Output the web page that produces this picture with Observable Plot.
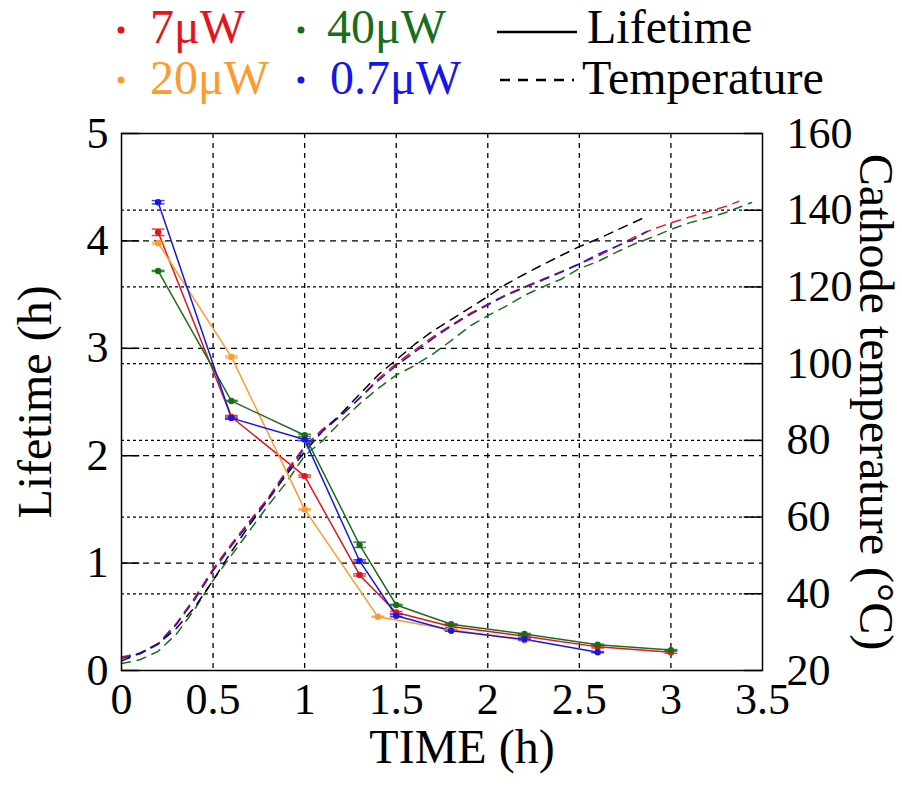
<!DOCTYPE html>
<html>
<head>
<meta charset="utf-8">
<script src="https://cdn.jsdelivr.net/npm/d3@7"></script>
<script src="https://cdn.jsdelivr.net/npm/@observablehq/plot@0.6"></script>
<style>
  html, body { margin: 0; padding: 0; background: white; }
  #chart { width: 902px; }
</style>
</head>
<body>
<div id="chart"></div>
<script>
// ---- Data ----
const powers = ["7μW", "20μW", "40μW", "0.7μW"];
const colors = ["#e3141b", "#ff9a2e", "#1a6e1a", "#1616e6"];

// Lifetime (h) vs time (h)
const lifeX_7 = [0.2, 0.6, 1.0, 1.3, 1.5, 1.8, 2.2, 2.6, 3.0];
const life_7  = [4.08, 2.36, 1.81, 0.89, 0.54, 0.41, 0.32, 0.22, 0.17];
const err_7   = [0.03, 0.015, 0.01, 0.01, 0.01, 0.01, 0.01, 0.01, 0.01];

const lifeX_20 = [0.2, 0.6, 1.0, 1.4, 1.8, 2.2];
const life_20  = [3.98, 2.92, 1.50, 0.50, 0.38, 0.28];
const err_20   = [0.01, 0.01, 0.005, 0.005, 0.005, 0.005];

const lifeX_40 = [0.2, 0.6, 1.0, 1.3, 1.5, 1.8, 2.2, 2.6, 3.0];
const life_40  = [3.72, 2.51, 2.19, 1.17, 0.61, 0.43, 0.34, 0.24, 0.19];
const err_40   = [0.005, 0.005, 0.01, 0.025, 0.005, 0.005, 0.005, 0.005, 0.005];

const lifeX_07 = [0.2, 0.6, 1.0, 1.3, 1.5, 1.8, 2.2, 2.6];
const life_07  = [4.36, 2.35, 2.15, 1.02, 0.51, 0.37, 0.29, 0.17];
const err_07   = [0.015, 0.01, 0.01, 0.01, 0.01, 0.005, 0.005, 0.005];

// Cathode temperature (°C) vs time (h)
const tempX_7 = [0.0,0.1,0.2,0.3,0.4,0.5,0.6,0.7,0.8,0.9,1.0,1.1,1.2,1.3,1.4,1.5,1.6,1.7,1.8,1.9,2.0,2.1,2.2,2.3,2.4,2.5,2.6,2.7,2.8,2.9,3.0,3.1,3.2,3.3,3.37];
const temp_7  = [23.5,24.5,27,32.3,39,46.5,53,59,65,72,78.5,83,86.5,91,96,100,103.5,107,110,113,115.5,118,120,122,124,126,128,130.5,133,135,136.7,138.2,139.6,141,142.3];

const tempX_07 = [0.0,0.1,0.2,0.3,0.4,0.5,0.6,0.7,0.8,0.9,1.0,1.1,1.2,1.3,1.4,1.5,1.6,1.7,1.8,1.9,2.0,2.1,2.2,2.3,2.4,2.5,2.6,2.7,2.8,2.87];
const temp_07  = [23.2,24.3,26.8,32,38.5,46,52.5,58.5,64.5,71.5,78,82.5,86.5,91,95.5,99.5,103,106.5,109.8,112.7,115.3,117.8,119.8,121.8,123.8,126,128.5,130.5,132.5,134.5];

const tempX_40 = [0.0,0.1,0.2,0.3,0.4,0.5,0.6,0.7,0.8,0.9,1.0,1.1,1.2,1.3,1.4,1.5,1.6,1.7,1.8,1.9,2.0,2.1,2.2,2.3,2.4,2.5,2.6,2.7,2.8,2.9,3.0,3.1,3.2,3.3,3.44];
const temp_40  = [21.8,22.8,25,29.5,36,43.5,50,56.5,63,69,76,80,85,89.5,93.5,97,99.5,102.5,106,109.7,112.5,115,117.8,120,122,124.8,126.6,129,131.2,133,135,136.7,138,139.4,142];

const tempX_k = [0.0,0.1,0.2,0.3,0.4,0.5,0.6,0.7,0.8,0.9,1.0,1.1,1.2,1.3,1.4,1.5,1.6,1.7,1.8,1.9,2.0,2.1,2.2,2.3,2.4,2.5,2.6,2.7,2.85];
const temp_k  = [22.5,24.5,27,31,36.5,43.5,51,58,64.5,71,77,82.5,87,92,97,101,105,108.5,111.5,114.5,117.5,120.7,123.3,125.8,128.2,130.5,132.5,134.7,138];

// Axis ticks
const xTicks = [0, 0.5, 1, 1.5, 2, 2.5, 3, 3.5];
const xGrid = [0.5, 1, 1.5, 2, 2.5, 3];
const yTicks = [0, 1, 2, 3, 4, 5];
const yGrid = [1, 2, 3, 4];
const tTicks = [20, 40, 60, 80, 100, 120, 140, 160];
const tGrid = [40, 60, 80, 100, 120, 140];

// ---- Build tables ----
const toY = t => (t - 20) / 28;   // map temperature domain [20,160] onto lifetime domain [0,5]
const fromY = y => String(Math.round(y * 28 + 20));

const lifeSets = [
  [powers[0], lifeX_7, life_7, err_7],
  [powers[1], lifeX_20, life_20, err_20],
  [powers[2], lifeX_40, life_40, err_40],
  [powers[3], lifeX_07, life_07, err_07]
];
const lifeRows = lifeSets.flatMap(([p, xs, ys, es]) => xs.map((x, i) => ({power: p, x, y: ys[i], e: es[i]})));

const tempSets = [
  ["7μW", tempX_7, temp_7, colors[0]],
  ["40μW", tempX_40, temp_40, colors[2]],
  ["ref", tempX_k, temp_k, "black"],
  ["0.7μW", tempX_07, temp_07, colors[3]]
];

const FONT = "'Liberation Serif', 'Times New Roman', serif";
const capW = 0.035;

const tempMarks = tempSets.map(([name, xs, ts, c]) =>
  Plot.line(xs.map((x, i) => ({x, t: ts[i]})), {
    x: "x", y: d => toY(d.t), stroke: c, strokeWidth: 1.5, strokeDasharray: "9,7"
  })
);

const plot = Plot.plot({
  width: 902,
  height: 679,
  marginTop: 23,
  marginBottom: 119,
  marginLeft: 121,
  marginRight: 140,
  style: {fontFamily: FONT, fontSize: "44px", color: "black", background: "white", overflow: "visible"},
  x: {domain: [0, 3.5]},
  y: {domain: [0, 5]},
  color: {domain: powers, range: colors},
  marks: [
    // grid
    Plot.ruleX(xGrid, {stroke: "black", strokeWidth: 1.3, strokeDasharray: "5,5"}),
    Plot.ruleY(yGrid, {stroke: "black", strokeWidth: 1.3, strokeDasharray: "6,5"}),
    Plot.ruleY(tGrid.map(toY), {stroke: "black", strokeWidth: 1.2, strokeDasharray: "3,3"}),
    // inner ticks
    Plot.ruleY(yTicks, {x1: 0, x2: 0.1, stroke: "black", strokeWidth: 1.5}),
    Plot.ruleY(tTicks.map(toY), {x1: 3.4, x2: 3.5, stroke: "black", strokeWidth: 1.5}),
    // temperature (dashed)
    ...tempMarks,
    // lifetime lines
    Plot.line(lifeRows, {x: "x", y: "y", z: "power", stroke: "power", strokeWidth: 1.5}),
    // error bars
    Plot.link(lifeRows, {x1: "x", x2: "x", y1: d => d.y - d.e, y2: d => d.y + d.e, stroke: "power", strokeWidth: 1.5}),
    Plot.link(lifeRows, {x1: d => d.x - capW, x2: d => d.x + capW, y1: d => d.y + d.e, y2: d => d.y + d.e, stroke: "power", strokeWidth: 1.5, strokeOpacity: 0.8}),
    Plot.link(lifeRows, {x1: d => d.x - capW, x2: d => d.x + capW, y1: d => d.y - d.e, y2: d => d.y - d.e, stroke: "power", strokeWidth: 1.5, strokeOpacity: 0.8}),
    Plot.dot(lifeRows, {x: "x", y: "y", fill: "power", r: 3.2}),
    // frame
    Plot.frame({stroke: "black", strokeWidth: 1.5}),
    // axes
    Plot.axisX(xTicks, {tickSize: 0, tickPadding: 12, label: null, fontSize: 44, tickFormat: d => String(d)}),
    Plot.axisY(yTicks, {anchor: "left", tickSize: 0, tickPadding: 13, label: null, fontSize: 44, tickFormat: d => String(d)}),
    Plot.axisY(tTicks.map(toY), {anchor: "right", tickSize: 0, tickPadding: 24, label: null, fontSize: 44, tickFormat: fromY}),
    // axis titles
    Plot.text(["TIME (h)"], {frameAnchor: "bottom", dy: 92, dx: 20, fontSize: 48, textAnchor: "middle", fill: "black"}),
    Plot.text(["Lifetime (h)"], {frameAnchor: "left", dx: -86, rotate: -90, fontSize: 48, textAnchor: "middle", fill: "black"}),
    Plot.text(["Cathode temperature (°C)"], {frameAnchor: "right", dx: 113, rotate: 90, fontSize: 48, textAnchor: "middle", fill: "black"})
  ]
});

// ---- Legend (above the plot) ----
const leg = d3.create("svg")
  .attr("width", 902).attr("height", 110)
  .style("display", "block")
  .style("font-family", FONT);

const legendDots = [
  {p: powers[0], c: colors[0], cx: 121, cy: 30, tx: 150, ty: 43},
  {p: powers[2], c: colors[2], cx: 301, cy: 30, tx: 327, ty: 43},
  {p: powers[1], c: colors[1], cx: 121, cy: 80, tx: 150, ty: 94},
  {p: powers[3], c: colors[3], cx: 301, cy: 80, tx: 330, ty: 94}
];
for (const it of legendDots) {
  leg.append("circle").attr("cx", it.cx).attr("cy", it.cy).attr("r", 3.5).attr("fill", it.c);
  leg.append("text").attr("x", it.tx).attr("y", it.ty).attr("font-size", 48).attr("fill", it.c).text(it.p);
}
leg.append("line").attr("x1", 497).attr("x2", 577).attr("y1", 32).attr("y2", 32)
  .attr("stroke", "black").attr("stroke-width", 2.5);
leg.append("text").attr("x", 587).attr("y", 43).attr("font-size", 48).attr("fill", "black").text("Lifetime");
leg.append("line").attr("x1", 500).attr("x2", 574).attr("y1", 80).attr("y2", 80)
  .attr("stroke", "black").attr("stroke-width", 2.5).attr("stroke-dasharray", "10,8");
leg.append("text").attr("x", 582).attr("y", 94).attr("font-size", 48).attr("fill", "black").text("Temperature");

const root = document.getElementById("chart");
root.appendChild(leg.node());
root.appendChild(plot);
</script>
</body>
</html>
